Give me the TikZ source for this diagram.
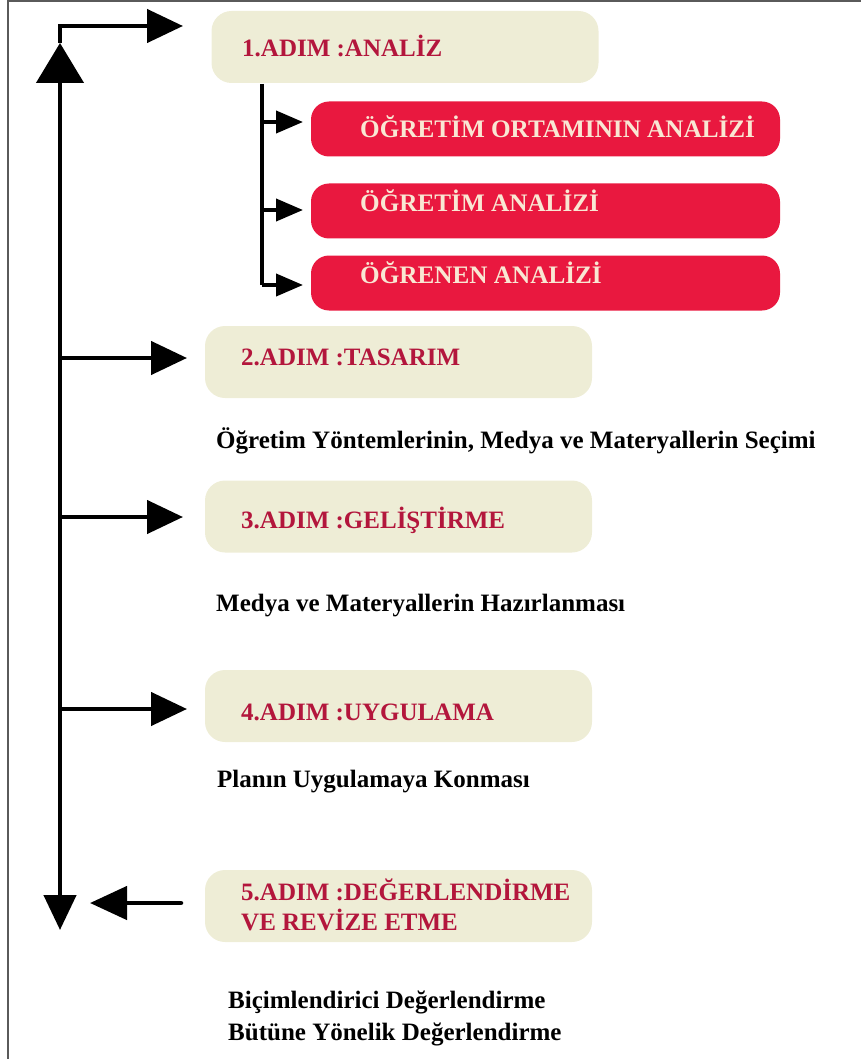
\documentclass[tikz,border=0pt]{standalone}
\usepackage{fontspec}
\setmainfont{Liberation Serif}
\usetikzlibrary{arrows.meta}
\definecolor{beige}{HTML}{EEEDD6}
\definecolor{titlered}{HTML}{B3163C}
\definecolor{boxred}{HTML}{E9183F}
\definecolor{cream}{HTML}{F9E7D3}
\definecolor{framegray}{HTML}{5A5A5A}
\tikzset{
  beigebox/.style={fill=beige, draw=none, rounded corners=20pt, minimum width=387pt, minimum height=72pt, inner sep=0pt},
  redbox/.style={fill=boxred, draw=none, rounded corners=18pt, minimum width=469pt, minimum height=55pt, inner sep=0pt},
  steptext/.style={anchor=base west, inner sep=0pt, text=titlered, font=\fontsize{25}{30}\selectfont\bfseries},
  redtext/.style={anchor=base west, inner sep=0pt, text=cream, font=\fontsize{25.2}{30}\selectfont\bfseries},
  desctext/.style={anchor=base west, inner sep=0pt, text=black, font=\fontsize{25}{30}\selectfont\bfseries},
  mainline/.style={line width=4.5pt, black, line join=miter},
  subline/.style={line width=4pt, black, line join=miter},
  bigtip/.style={-{Triangle[length=36pt,width=33pt]}},
  smalltip/.style={-{Triangle[length=27pt,width=22pt]}},
}
\begin{document}
\begin{tikzpicture}[x=1pt,y=-1pt]
\useasboundingbox (0,0) rectangle (861,1059);
% frame
\draw[framegray, line width=1.6pt] (8,1059) -- (8,1) -- (861,1);

% boxes
\node[beigebox] (b1) at (405,47) {};
\node[steptext] (t1) at (242,57) {1.ADIM :ANALİZ};

\node[redbox] (r1) at (545.5,129) {};
\node[redtext] (rt1) at (360,138) {ÖĞRETİM ORTAMININ ANALİZİ};
\node[redbox] (r2) at (545.5,211) {};
\node[redtext] (rt2) at (360,212) {ÖĞRETİM ANALİZİ};
\node[redbox] (r3) at (545.5,283) {};
\node[redtext] (rt3) at (360,283) {ÖĞRENEN ANALİZİ};

\node[beigebox] (b2) at (398.5,362) {};
\node[steptext] (t2) at (241,365) {2.ADIM :TASARIM};
\node[desctext] (d2) at (216,448) {Öğretim Yöntemlerinin, Medya ve Materyallerin Seçimi};

\node[beigebox] (b3) at (398.5,516.5) {};
\node[steptext] (t3) at (241,528) {3.ADIM :GELİŞTİRME};
\node[desctext] (d3) at (216,611) {Medya ve Materyallerin Hazırlanması};

\node[beigebox] (b4) at (398.5,706) {};
\node[steptext] (t4) at (241,720) {4.ADIM :UYGULAMA};
\node[desctext] (d4) at (217,787) {Planın Uygulamaya Konması};

\node[beigebox] (b5) at (398.5,906) {};
\node[steptext] (t5a) at (241,900) {5.ADIM :DEĞERLENDİRME};
\node[steptext] (t5b) at (241,930) {VE REVİZE ETME};
\node[desctext] (d5a) at (228,1008) {Biçimlendirici Değerlendirme};
\node[desctext] (d5b) at (228,1040) {Bütüne Yönelik Değerlendirme};

% coordinates
\coordinate (corner) at (60,26);
\coordinate (upapex) at (60,43);
\coordinate (bottom) at (60,930);
\coordinate (a1) at (183,26);
\coordinate (a2) at (187,358);
\coordinate (a3) at (183,517);
\coordinate (a4) at (187,709);
\coordinate (a5) at (90,903);
\coordinate (s5) at (181,903);
\coordinate (subtop) at (262,84);
\coordinate (subbot) at (262,285);
\coordinate (sa1) at (303,122);
\coordinate (sa2) at (303,210);
\coordinate (sa3) at (303,285);

% main spine
\draw[mainline, -{Triangle[length=35pt,width=32pt]}] (60,60) -- (bottom);
\draw[mainline, -{Triangle[length=40pt,width=47pt]}] (60,200) -- (upapex);
\draw[mainline, bigtip] (upapex) -- (corner) -- (a1);
\draw[mainline, bigtip] (60,358) -- (a2);
\draw[mainline, bigtip] (60,517) -- (a3);
\draw[mainline, bigtip] (60,709) -- (a4);
\draw[mainline, line cap=round, -{Triangle[length=37pt,width=33pt]}] (s5) -- (a5);

% sub branches
\draw[subline] (subtop) -- (subbot);
\draw[subline, smalltip] (262,122) -- (sa1);
\draw[subline, smalltip] (262,210) -- (sa2);
\draw[subline, smalltip] (subbot) -- (sa3);
\end{tikzpicture}
\end{document}
